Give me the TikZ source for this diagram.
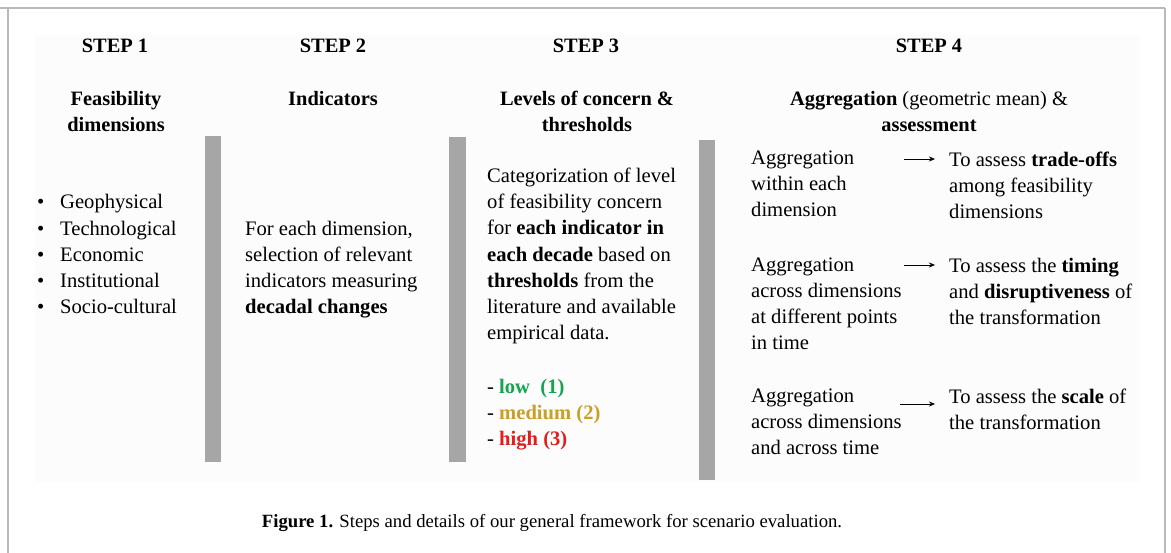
\documentclass[tikz,border=0pt]{standalone}
\usepackage{fontspec}
\setmainfont{Liberation Serif}
\usetikzlibrary{arrows.meta}
\definecolor{lowcol}{RGB}{20,165,80}
\definecolor{medcol}{RGB}{200,160,40}
\definecolor{highcol}{RGB}{225,30,30}
\definecolor{barcol}{RGB}{166,166,166}
\newcommand{\itm}{\makebox[23pt][l]{\textbullet}}
\tikzset{
  body/.style={anchor=base west, inner sep=0pt, align=left, font=\fontsize{20.6}{26.3}\selectfont},
  head/.style={anchor=base, inner sep=0pt, align=center, font=\bfseries\fontsize{20.4}{26.3}\selectfont},
  bar/.style={fill=barcol, draw=none},
  to/.style={-{Stealth[length=6pt,width=5pt]}, thin}
}
\begin{document}
\begin{tikzpicture}[x=1pt,y=-1pt]
\useasboundingbox (0,0) rectangle (1171,553);
% frame and panel
\draw[gray!55, line width=1.5pt] (0,8) -- (1165,8) (8,8) -- (8,553) (1165,8) -- (1165,553);
\fill[black!1] (35,35) rectangle (1140,482);
% separators
\fill[bar] (205,136) rectangle (221,462);
\fill[bar] (449,137) rectangle (466,462);
\fill[bar] (699,140) rectangle (715,480);
% headings
\node[head] (s1) at (115,53) {STEP 1};
\node[head] (s2) at (333,53) {STEP 2};
\node[head] (s3) at (586,53) {STEP 3};
\node[head] (s4) at (929,53) {STEP 4};
\node[head] (t1) at (116,132) {Feasibility\\dimensions};
\node[head] (t2) at (333,106) {Indicators};
\node[head] (t3) at (587,132) {Levels of concern \&\\thresholds};
\node[head] (t4) at (929,132) {Aggregation \mdseries(geometric mean) \&\\assessment};
% step 1
\node[body] (dims) at (37,314) {\itm Geophysical\\\itm Technological\\\itm Economic\\\itm Institutional\\\itm Socio-cultural};
% step 2
\node[body] (ind) at (245,314) {For each dimension,\\selection of relevant\\indicators measuring\\\textbf{decadal changes}};
% step 3
\node[body] (cat) at (487,340) {Categorization of level\\of feasibility concern\\for \textbf{each indicator in}\\\textbf{each decade} based on\\\textbf{thresholds} from the\\literature and available\\empirical data.};
\node[body] (lvl) at (487,446) {- \textcolor{lowcol}{\textbf{low\ \ (1)}}\\- \textcolor{medcol}{\textbf{medium (2)}}\\- \textcolor{highcol}{\textbf{high (3)}}};
% step 4
\node[body] (a1) at (751,217) {Aggregation\\within each\\dimension};
\node[body] (a2) at (751,350) {Aggregation\\across dimensions\\at different points\\in time};
\node[body] (a3) at (751,455) {Aggregation\\across dimensions\\and across time};
\node[body] (r1) at (949,219) {To assess \textbf{trade-offs}\\among feasibility\\dimensions};
\node[body] (r2) at (949,325) {To assess the \textbf{timing}\\and \textbf{disruptiveness} of\\the transformation};
\node[body] (r3) at (949,430) {To assess the \textbf{scale} of\\the transformation};
\coordinate (p1) at (904,159);
\coordinate (p2) at (904,265);
\coordinate (p3) at (900,404);
\draw[to] (p1) -- ([xshift=-14pt]r1.west |- p1);
\draw[to] (p2) -- ([xshift=-14pt]r2.west |- p2);
\draw[to] (p3) -- ([xshift=-14pt]r3.west |- p3);
% caption
\node[anchor=base, inner sep=0pt, font=\fontsize{18.7}{22}\selectfont] (cap) at (552,527) {\textbf{Figure 1.} Steps and details of our general framework for scenario evaluation.};
\end{tikzpicture}
\end{document}
